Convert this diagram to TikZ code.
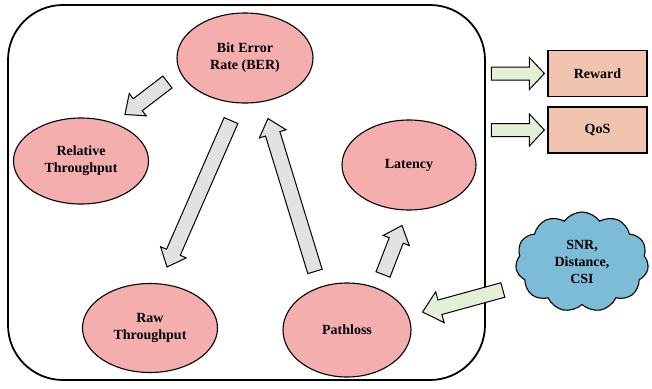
\documentclass[tikz,border=0pt]{standalone}
\usepackage{fontspec}
\setmainfont{Liberation Serif}
\usetikzlibrary{shapes,shapes.symbols,arrows,calc}

\definecolor{metricpink}{RGB}{244,174,174}
\definecolor{outpeach}{RGB}{241,196,176}
\definecolor{cloudblue}{RGB}{124,188,214}
\definecolor{arrowgray}{RGB}{226,226,226}
\definecolor{arrowgreen}{RGB}{226,241,214}

\newcommand{\fatarrow}[6]{%
  \coordinate (fa-neck) at ($(#3)!#6!(#2)$);
  \draw [#1] ($(#2)!#4!-90:(#3)$) -- ($(fa-neck)!#4!-90:(#3)$) -- ($(fa-neck)!#5!-90:(#3)$)
    -- (#3) -- ($(fa-neck)!#5!90:(#3)$) -- ($(fa-neck)!#4!90:(#3)$) -- ($(#2)!#4!90:(#3)$) -- cycle;
}

\begin{document}
\begin{tikzpicture}[x=1pt, y=-1pt, font=\bfseries\fontsize{14}{17}\selectfont]
    \tikzstyle{metric} = [draw, ellipse, fill=metricpink, line width=1.1pt,
    align=center, inner sep=0pt]
    \tikzstyle{outbox} = [draw, rectangle, fill=outpeach, line width=1.3pt,
    minimum width=99pt, minimum height=46pt]
    \tikzstyle{grayarrow} = [fill=arrowgray, draw, line width=1pt]
    \tikzstyle{greenarrow} = [fill=arrowgreen, draw, line width=1pt]

    \useasboundingbox (0,0) rectangle (652,388);

    \node [draw, rectangle, rounded corners=55pt, line width=1.8pt,
      minimum width=477pt, minimum height=375pt] (env) at (246.5,192.5) {};
    \node [metric, minimum width=136pt, minimum height=90pt] (ber) at (245,58) {Bit Error\\Rate (BER)};
    \node [metric, minimum width=135pt, minimum height=86pt] (rel) at (81,161) {Relative\\Throughput};
    \node [metric, minimum width=134pt, minimum height=90pt] (lat) at (409,165) {Latency};
    \node [metric, minimum width=135pt, minimum height=89pt] (raw) at (150,328) {Raw\\Throughput};
    \node [metric, minimum width=128pt, minimum height=94pt] (path) at (347,330) {Pathloss};
    \node [outbox] (reward) at (597.5,73.5) {Reward};
    \node [outbox] (qos) at (597.5,130) {QoS};
    \node [draw, cloud, cloud puffs=11, cloud puff arc=110, fill=cloudblue, line width=1.1pt,
      minimum width=133pt, minimum height=100pt, align=center, inner sep=0pt] (csi) at (582,262)
      {SNR,\\Distance,\\CSI};

    \coordinate (t1) at ([shift={(-9,24)}]ber.west);
    \coordinate (h1) at ([shift={(44,-3)}]rel.north);
    \coordinate (t2) at ([shift={(-14,17)}]ber.south);
    \coordinate (h2) at ([shift={(17,-16)}]raw.north);
    \coordinate (t3) at ([shift={(-32,-11)}]path.north);
    \coordinate (h3) at ([shift={(23,15)}]ber.south);
    \coordinate (t4) at ([shift={(36,-8)}]path.north);
    \coordinate (h4) at ([shift={(-7,15)}]lat.south);
    \coordinate (t5) at ([shift={(-13,28)}]csi.west);
    \coordinate (h5) at ([shift={(11,-18)}]path.east);
    \coordinate (t6) at ([shift={(-56,0)}]reward.west);
    \coordinate (h6) at ([shift={(-3,0)}]reward.west);
    \coordinate (t7) at ([shift={(-56,0)}]qos.west);
    \coordinate (h7) at ([shift={(-3,0)}]qos.west);

    \fatarrow{grayarrow}{t1}{h1}{7.5pt}{14pt}{16pt}
    \fatarrow{grayarrow}{t2}{h2}{7.5pt}{14pt}{16pt}
    \fatarrow{grayarrow}{t3}{h3}{7.5pt}{14pt}{16pt}
    \fatarrow{grayarrow}{t4}{h4}{7.5pt}{14pt}{16pt}
    \fatarrow{greenarrow}{t5}{h5}{7.5pt}{16pt}{18pt}
    \fatarrow{greenarrow}{t6}{h6}{6.5pt}{16pt}{15pt}
    \fatarrow{greenarrow}{t7}{h7}{6.5pt}{16pt}{15pt}
  \end{tikzpicture}
\end{document}
